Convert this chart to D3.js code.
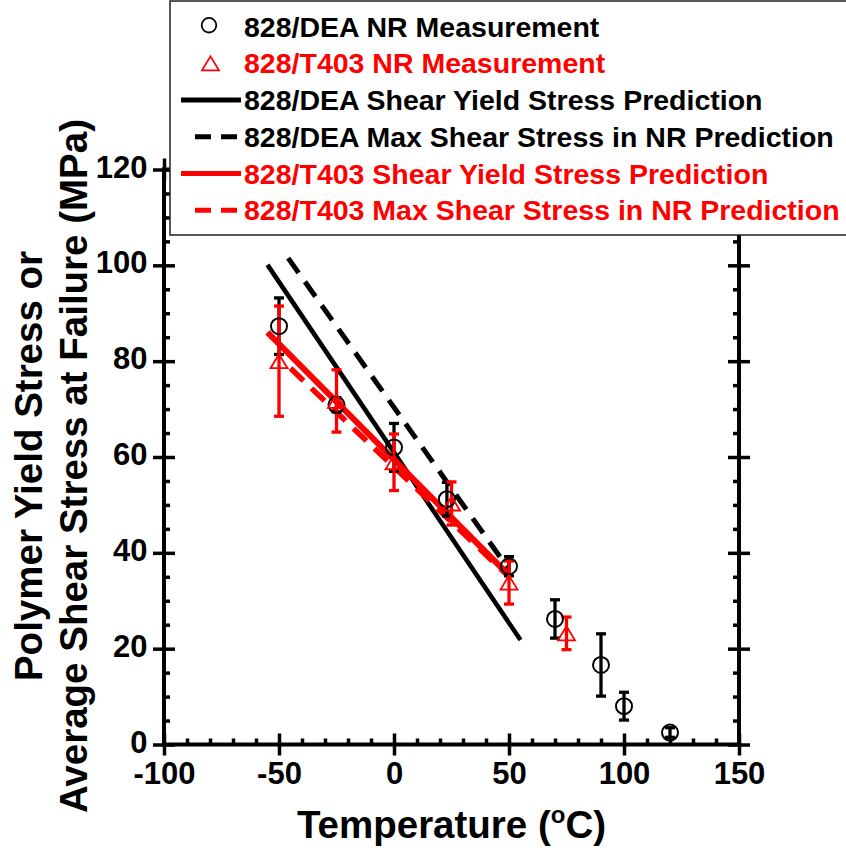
<!DOCTYPE html>
<html><head><meta charset="utf-8">
<script src="https://cdn.jsdelivr.net/npm/d3@7"></script>
<style>
html,body{margin:0;padding:0;background:#fff;}
svg{display:block;font-family:"Liberation Sans",Arial,Helvetica,sans-serif;font-weight:bold;}
</style></head><body>
<svg id="chart" width="846" height="851"></svg>
<script>
// 828/DEA notched-ring measurements (temperature in °C, stress in MPa, ± error)
const deaTemp   = [-50, -25, 0, 23, 50, 70, 90, 100, 120];
const deaStress = [87.3, 70.9, 62.0, 51.2, 37.2, 26.2, 16.6, 8.0, 2.5];
const deaErr    = [5.9, 1.5, 5.0, 3.5, 2.0, 4.0, 6.5, 2.9, 1.0];

// 828/T403 notched-ring measurements
const t403Temp   = [-50, -25, 0, 25, 50, 75];
const t403Stress = [80.0, 71.7, 58.9, 50.3, 33.8, 23.2];
const t403Err    = [11.5, 6.5, 5.9, 4.5, 4.5, 3.4];

// Prediction lines (end points)
const deaYieldTemp  = [-55, 55],  deaYieldStress  = [100.1, 21.8];
const deaMaxTemp    = [-46, 50],  deaMaxStress    = [101.5, 36.5];
const t403YieldTemp = [-55, 50],  t403YieldStress = [86.0, 35.3];
const t403MaxTemp   = [-45, 50],  t403MaxStress   = [78.5, 35.0];

// Axis ticks
const xTicks = [-100, -50, 0, 50, 100, 150];
const yTicks = [0, 20, 40, 60, 80, 100, 120];
const xMinorStep = 10, yMinorStep = 5;

const legendLabels = [
  "828/DEA NR Measurement",
  "828/T403 NR Measurement",
  "828/DEA Shear Yield Stress Prediction",
  "828/DEA Max Shear Stress in NR Prediction",
  "828/T403 Shear Yield Stress Prediction",
  "828/T403 Max Shear Stress in NR Prediction"
];

const RED = "#ff0000", BLACK = "#000000";
const svg = d3.select("#chart");

const x = d3.scaleLinear().domain([-100, 150]).range([164, 739]);
const y = d3.scaleLinear().domain([0, 120]).range([744.5, 169.5]);

const xMinor = d3.range(-100, 151, xMinorStep).filter(v => !xTicks.includes(v));
const yMinor = d3.range(0, 121, yMinorStep).filter(v => !yTicks.includes(v));

// ---- axes ----
const axesG = svg.append("g");
function styleAxis(g) {
  g.select(".domain").remove();
  g.selectAll(".tick line").attr("stroke", BLACK).attr("stroke-width", 3.5);
}
function addAxis(axisFn, scale, transform, values, size, labels) {
  const a = axisFn(scale).tickValues(values).tickSize(size)
    .tickFormat(labels ? (d => String(d)) : "");
  const g = axesG.append("g").attr("transform", transform).call(a);
  styleAxis(g);
  return g;
}
const x0 = `translate(0,${y(0)})`, xTop = `translate(0,${y(120)})`;
const yL = `translate(${x(-100)},0)`, yR = `translate(${x(150)},0)`;

// bottom
const bottomLab = addAxis(d3.axisBottom, x, x0, xTicks, 11, true);
addAxis(d3.axisBottom, x, x0, xTicks, -11, false);
addAxis(d3.axisBottom, x, x0, xMinor, -6, false);
bottomLab.selectAll("text").attr("y", 39.5).attr("dy", null)
  .attr("font-size", 31).attr("font-family", "Liberation Sans, Arial, sans-serif")
  .attr("font-weight", "bold").attr("fill", BLACK);
// top
addAxis(d3.axisTop, x, xTop, xTicks, 11, false);
addAxis(d3.axisTop, x, xTop, xTicks, -11, false);
addAxis(d3.axisTop, x, xTop, xMinor, -6, false);
// left
const leftLab = addAxis(d3.axisLeft, y, yL, yTicks, 11, true);
addAxis(d3.axisLeft, y, yL, yTicks, -11, false);
addAxis(d3.axisLeft, y, yL, yMinor, -6, false);
leftLab.selectAll("text").attr("x", -16.5).attr("dy", null).attr("y", 7.5)
  .attr("font-size", 31).attr("font-family", "Liberation Sans, Arial, sans-serif")
  .attr("font-weight", "bold").attr("fill", BLACK);
// right
addAxis(d3.axisRight, y, yR, yTicks, 11, false);
addAxis(d3.axisRight, y, yR, yTicks, -11, false);
addAxis(d3.axisRight, y, yR, yMinor, -6, false);

// frame lines
const frame = [
  [x(-100), y(0), x(150), y(0)],
  [x(-100), y(120), x(150), y(120)],
  [x(-100), y(0), x(-100), y(120)],
  [x(150), y(0), x(150), y(120)]
];
axesG.selectAll("line.frame").data(frame).enter().append("line")
  .attr("class", "frame")
  .attr("x1", d => d[0]).attr("y1", d => d[1])
  .attr("x2", d => d[2]).attr("y2", d => d[3])
  .attr("stroke", BLACK).attr("stroke-width", 4).attr("stroke-linecap", "square");

// ---- prediction lines ----
const lineGen = d3.line().x(d => x(d[0])).y(d => y(d[1]));
const lines = [
  {t: deaYieldTemp,  s: deaYieldStress,  c: BLACK, w: 4.6, dash: null},
  {t: deaMaxTemp,    s: deaMaxStress,    c: BLACK, w: 5,   dash: "18,11"},
  {t: t403MaxTemp,   s: t403MaxStress,   c: RED,   w: 5.5, dash: "18,11"},
  {t: t403YieldTemp, s: t403YieldStress, c: RED,   w: 6,   dash: null}
];
svg.append("g").selectAll("path").data(lines).enter().append("path")
  .attr("d", d => lineGen(d.t.map((t, i) => [t, d.s[i]])))
  .attr("fill", "none").attr("stroke", d => d.c).attr("stroke-width", d => d.w)
  .attr("stroke-dasharray", d => d.dash);

// ---- measurements with error bars ----
function errorBars(temps, vals, errs, color) {
  const g = svg.append("g").attr("stroke", color).attr("stroke-width", 3.3).attr("fill", "none");
  temps.forEach((t, i) => {
    const cx = x(t), yt = y(vals[i] + errs[i]), yb = y(vals[i] - errs[i]);
    g.append("line").attr("x1", cx).attr("x2", cx).attr("y1", yt).attr("y2", yb);
    g.append("line").attr("x1", cx - 5).attr("x2", cx + 5).attr("y1", yt).attr("y2", yt);
    g.append("line").attr("x1", cx - 5).attr("x2", cx + 5).attr("y1", yb).attr("y2", yb);
  });
}
errorBars(deaTemp, deaStress, deaErr, BLACK);
errorBars(t403Temp, t403Stress, t403Err, RED);

const triPath = "M0,-7L8.5,7L-8.5,7Z";
svg.append("g").selectAll("circle").data(deaTemp).enter().append("circle")
  .attr("cx", d => x(d)).attr("cy", (d, i) => y(deaStress[i])).attr("r", 8)
  .attr("fill", "none").attr("stroke", BLACK).attr("stroke-width", 2);
svg.append("g").selectAll("path").data(t403Temp).enter().append("path")
  .attr("transform", (d, i) => `translate(${x(d)},${y(t403Stress[i])})`)
  .attr("d", triPath)
  .attr("fill", "none").attr("stroke", RED).attr("stroke-width", 1.8);

// ---- axis titles ----
svg.append("text").attr("x", (x(-100) + x(150)) / 2).attr("y", 838)
  .attr("text-anchor", "middle").attr("font-size", 38.5).attr("fill", BLACK)
  .call(t => {
    t.append("tspan").text("Temperature (");
    t.append("tspan").attr("font-size", 24).attr("dy", -15).text("o");
    t.append("tspan").attr("dy", 15).text("C)");
  });
const yTitle = ["Polymer Yield Stress or", "Average Shear Stress at Failure (MPa)"];
svg.append("g").selectAll("text").data(yTitle).enter().append("text")
  .attr("transform", (d, i) => `translate(${i ? 87 : 42},466) rotate(-90)`)
  .attr("text-anchor", "middle").attr("font-size", 38.5).attr("fill", BLACK)
  .text(d => d);

// ---- legend ----
const lg = svg.append("g");
lg.append("rect").attr("x", 170).attr("y", 1).attr("width", 700).attr("height", 234)
  .attr("fill", "#fff").attr("stroke", "#222").attr("stroke-width", 1.5);
const legendColors = [BLACK, RED, BLACK, BLACK, RED, RED];
const rowBase = i => 36.7 + i * 36.7;
lg.selectAll("text").data(legendLabels).enter().append("text")
  .attr("x", 244).attr("y", (d, i) => rowBase(i))
  .attr("font-size", 28.5).attr("fill", (d, i) => legendColors[i]).text(d => d);
lg.append("circle").attr("cx", 209).attr("cy", rowBase(0) - 11.5).attr("r", 7.3)
  .attr("fill", "none").attr("stroke", BLACK).attr("stroke-width", 1.8);
lg.append("path").attr("transform", `translate(210.5,${rowBase(1) - 10})`).attr("d", triPath)
  .attr("fill", "none").attr("stroke", RED).attr("stroke-width", 1.8);
const legendLines = [
  {row: 2, c: BLACK, dash: null, x1: 181, x2: 241},
  {row: 3, c: BLACK, dash: "16,10", x1: 195, x2: 237},
  {row: 4, c: RED, dash: null, x1: 181, x2: 241},
  {row: 5, c: RED, dash: "16,10", x1: 195, x2: 237}
];
lg.selectAll("line").data(legendLines).enter().append("line")
  .attr("x1", d => d.x1).attr("x2", d => d.x2)
  .attr("y1", d => rowBase(d.row) - 10).attr("y2", d => rowBase(d.row) - 10)
  .attr("stroke", d => d.c).attr("stroke-width", 5).attr("stroke-dasharray", d => d.dash);
</script>
</body></html>
